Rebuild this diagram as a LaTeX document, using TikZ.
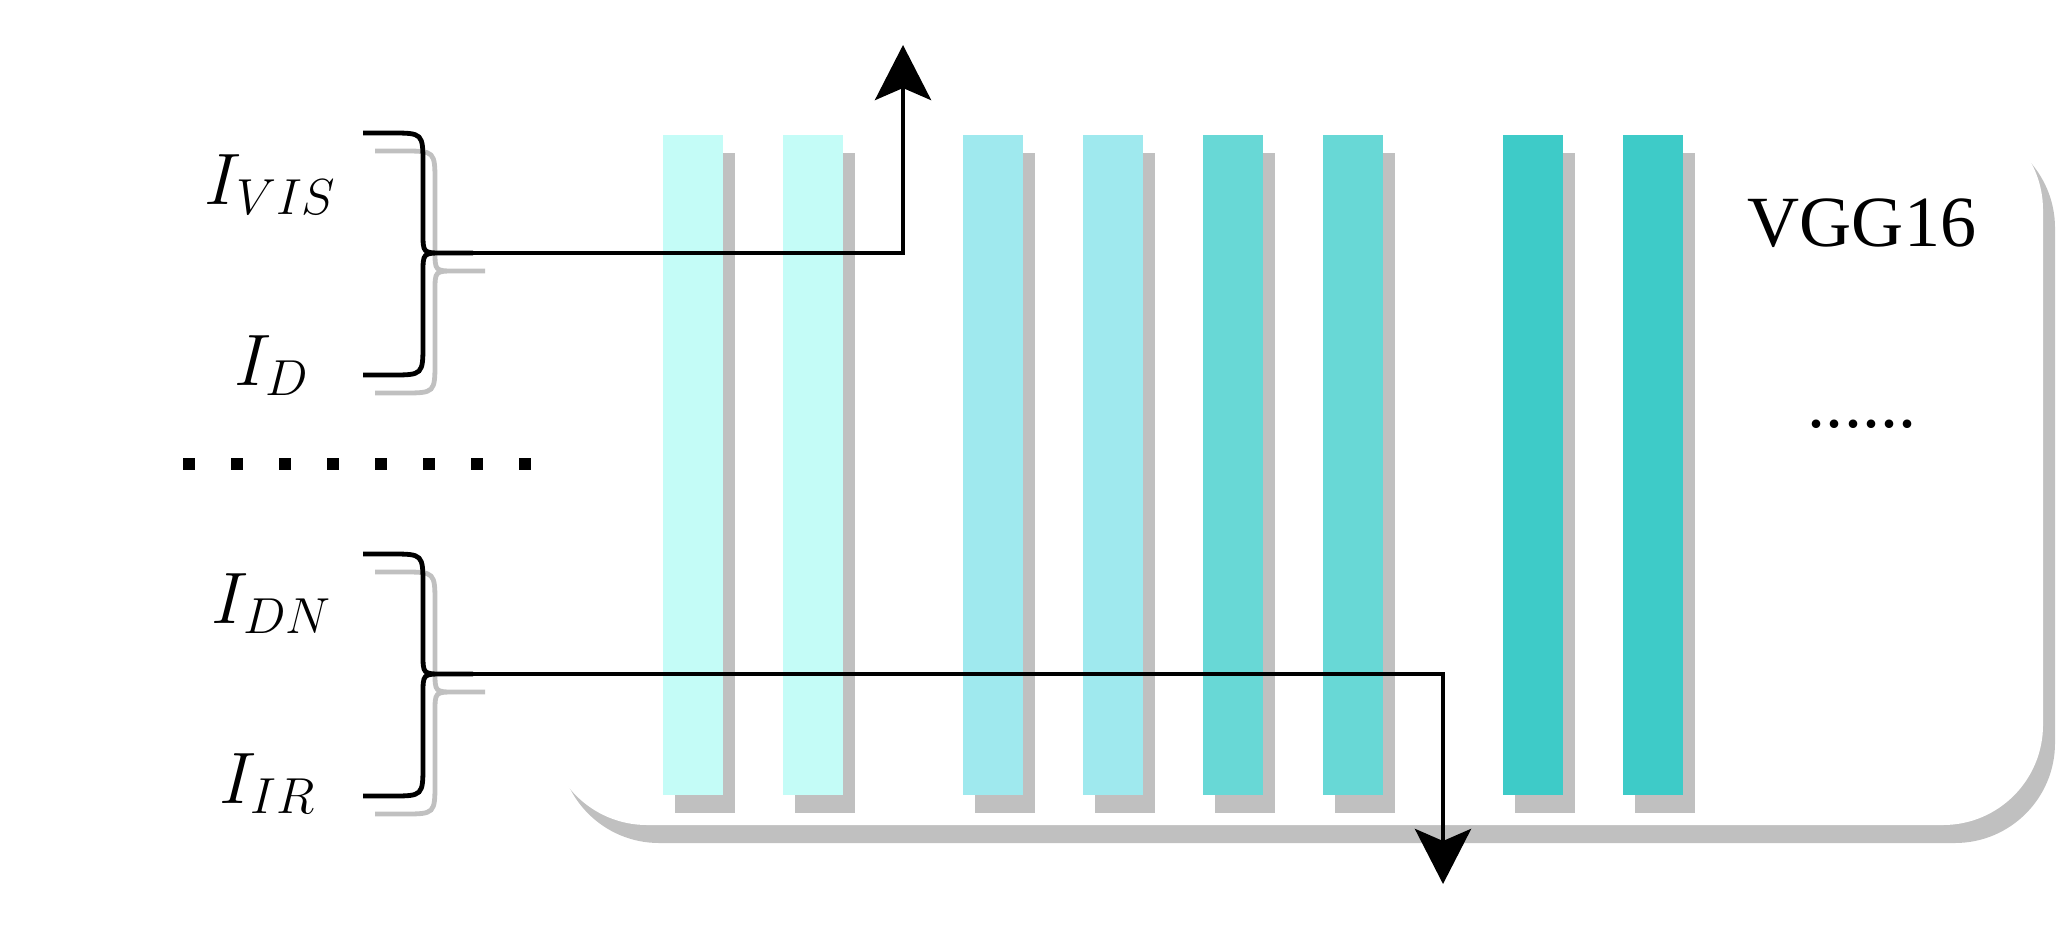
\documentclass[tikz,border=0pt]{standalone}
\usepackage{fontspec}
\newfontfamily\vggfont{Liberation Serif}
\usetikzlibrary{arrows.meta}
\definecolor{barA}{HTML}{C4FCF7}
\definecolor{barB}{HTML}{9FE9EE}
\definecolor{barC}{HTML}{68D8D6}
\definecolor{barD}{HTML}{3ECBC8}
\definecolor{shadowgrey}{HTML}{C0C0C0}
\tikzset{
  lbl/.style={anchor=base, inner sep=0pt, font=\fontsize{20}{24}\selectfont},
  vgg/.style={anchor=base, inner sep=0pt, font=\vggfont\fontsize{20.5}{24}\selectfont},
  wire/.style={line width=0.048cm},
  outarrow/.style={wire, -{Stealth[length=0.55cm, width=0.56cm, inset=0.12cm]}},
}
% one brace, in pixel units
\newcommand\bracepath{(363,133) -- (391,133) .. controls (423,133) .. (423,165) -- (423,233)
  .. controls (423,253) .. (443,253) -- (473,253)
  (363,375) -- (391,375) .. controls (423,375) .. (423,343) -- (423,273)
  .. controls (423,253) .. (443,253)}
\begin{document}
\begin{tikzpicture}[x=0.01cm, y=-0.01cm]
\useasboundingbox (0,0) rectangle (2058,936);
% network box and its shadow
\fill[shadowgrey, rounded corners=1cm] (559,128) rectangle (2055,843);
\fill[white, rounded corners=1cm] (547,110) rectangle (2043,825);
% layers
\foreach \x/\c in {663/barA, 783/barA, 963/barB, 1083/barB, 1203/barC, 1323/barC, 1503/barD, 1623/barD} {
  \fill[shadowgrey] (\x+12,153) rectangle ++(60,660);
  \fill[\c] (\x,135) rectangle ++(60,660);
}
% input braces
\foreach \dy/\nm in {0/A, 421/B} {
  \begin{scope}[shift={(0,\dy)}]
    \draw[wire, shadowgrey, shift={(12,18)}] \bracepath;
    \draw[wire] \bracepath;
    \coordinate (tip\nm) at (443,253);
  \end{scope}
}
\foreach \k in {0,...,7}
  \fill (183+48*\k,458) rectangle ++(12,12);
\node[lbl] (ivis) at (271,204) {$I_{VIS}$};
\node[lbl] (id) at (272,385) {$I_D$};
\node[lbl] (idn) at (272,623) {$I_{DN}$};
\node[lbl] (iir) at (268,803) {$I_{IR}$};
\node[vgg] (vgg) at (1862,246) {VGG16};
\node[vgg] (more) at (1862,427) {......};
% outputs
\coordinate (outA) at (903,45);
\coordinate (outB) at (1443,884);
\draw[outarrow] (tipA) -| (outA);
\draw[outarrow] (tipB) -| (outB);
\end{tikzpicture}
\end{document}
